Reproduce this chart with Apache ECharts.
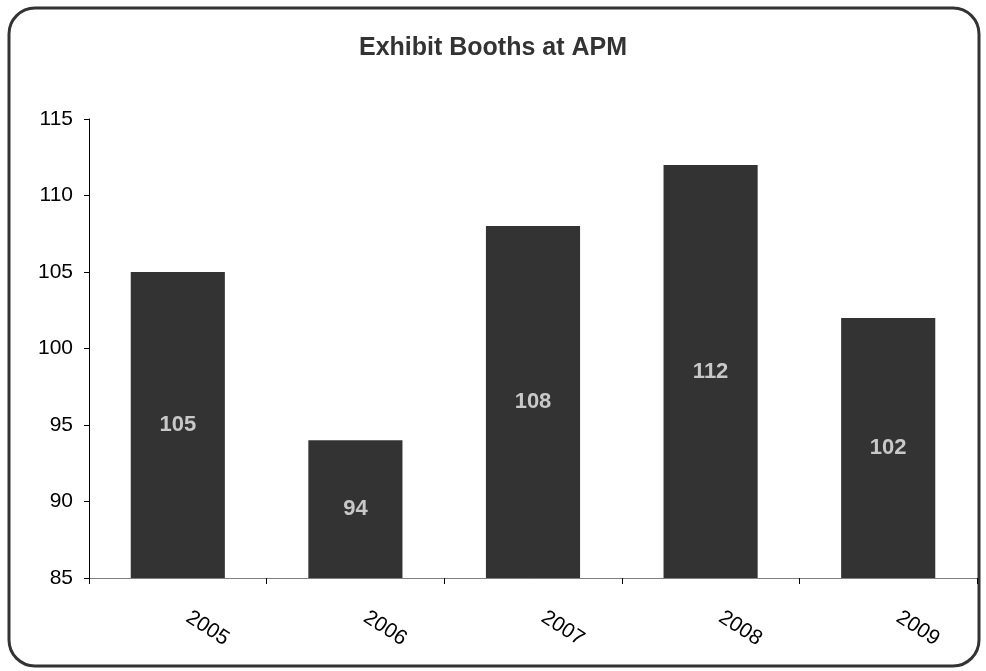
<!DOCTYPE html>
<html><head><meta charset="utf-8">
<script src="https://cdn.jsdelivr.net/npm/echarts@6/dist/echarts.min.js"></script>
<style>html,body{margin:0;padding:0;background:#fff}#c{width:986px;height:671px}</style>
</head><body><div id="c"></div>
<script>
const categories = ['2005','2006','2007','2008','2009'];
const booths = [105, 94, 108, 112, 102];
const yTicks = { min: 85, max: 115, interval: 5 };

const chart = echarts.init(document.getElementById('c'));
chart.setOption({
  animation: false,
  backgroundColor: '#fff',
  title: {
    text: 'Exhibit Booths at APM', left: 'center', top: 31,
    textStyle: { fontFamily: 'Liberation Sans, Arial', fontSize: 25, fontWeight: 'bold', color: '#333' }
  },
  graphic: [{
    type: 'rect', silent: true,
    shape: { x: 9, y: 8, width: 970, height: 658, r: 26 },
    style: { fill: 'none', stroke: '#333', lineWidth: 3 }
  }],
  grid: { left: 89, right: 9, top: 119, bottom: 93 },
  xAxis: {
    type: 'category', data: categories,
    axisLine: { lineStyle: { color: '#808080', width: 1 } },
    axisTick: { show: true, length: 6, lineStyle: { color: '#000' } },
    axisLabel: {
      rotate: -33, margin: 31, align: 'left', verticalAlign: 'middle', padding: [0, 0, 0, 12],
      fontFamily: 'Liberation Sans, Arial', fontSize: 21, color: '#000'
    }
  },
  yAxis: {
    type: 'value', min: yTicks.min, max: yTicks.max, interval: yTicks.interval,
    axisLine: { show: true, lineStyle: { color: '#000', width: 1 } },
    axisTick: { show: true, length: 5, lineStyle: { color: '#000' } },
    splitLine: { show: false },
    axisLabel: { margin: 16, fontFamily: 'Liberation Sans, Arial', fontSize: 21, color: '#000' }
  },
  series: [{
    type: 'bar', data: booths, barWidth: '53%',
    itemStyle: { color: '#333333' },
    label: {
      show: true, position: 'inside',
      fontFamily: 'Liberation Sans, Arial', fontSize: 22, fontWeight: 'bold', color: '#c8c8c8'
    }
  }]
});
</script></body></html>
